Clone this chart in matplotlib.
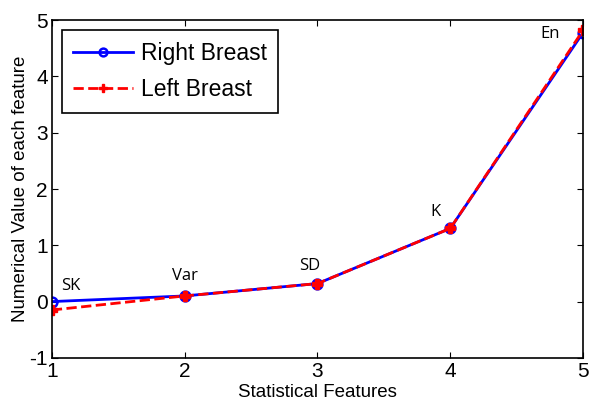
import matplotlib
matplotlib.use('Agg')
import matplotlib.pyplot as plt

features = [1, 2, 3, 4, 5]
names = ['SK', 'Var', 'SD', 'K', 'En']
right_breast = [0.0, 0.1, 0.32, 1.3, 4.78]
left_breast = [-0.15, 0.1, 0.32, 1.3, 4.82]

plt.rcParams['font.family'] = 'Liberation Sans'
plt.rcParams['axes.unicode_minus'] = False

fig = plt.figure(figsize=(5.89, 4.03), dpi=100)
ax = fig.add_axes([0.088, 0.112, 0.902, 0.838])

ax.plot(features, right_breast, 'b-o', lw=2, ms=7, mfc='none', mew=1.8, label='Right Breast')
ax.plot(features, left_breast, 'r--P', lw=2, ms=7, mec='r', label='Left Breast')

# feature names, shifted a little from each point
shifts = [(0.14, 0.28), (0.0, 0.36), (-0.06, 0.32), (-0.11, 0.30), (-0.25, -0.03)]
for x, y, n, (dx, dy) in zip(features, right_breast, names, shifts):
    ax.text(x + dx, y + dy, n, fontsize=12, family='Open Sans',
            ha='center', va='center')

ax.set_xlim(1, 5)
ax.set_ylim(-1, 5)
ax.set_xticks(features)
ax.set_yticks(range(-1, 6))
ax.tick_params(direction='in', labelsize=15, length=4, top=True, right=True, pad=3)
for s in ax.spines.values():
    s.set_linewidth(1.2)

ax.set_xlabel('Statistical Features', fontsize=13.5, labelpad=2)
ax.set_ylabel('Numerical Value of each feature', fontsize=13.5, labelpad=0)

leg = ax.legend(loc='upper left', fontsize=16.5, fancybox=False, edgecolor='k',
                framealpha=1, borderpad=0.5, handlelength=2.6, handletextpad=0.35,
                labelspacing=0.6, markerscale=0.8, borderaxespad=0,
                bbox_to_anchor=(0.019, 0.97))
leg.get_frame().set_linewidth(1.2)

fig.savefig('out.png', dpi=100)
